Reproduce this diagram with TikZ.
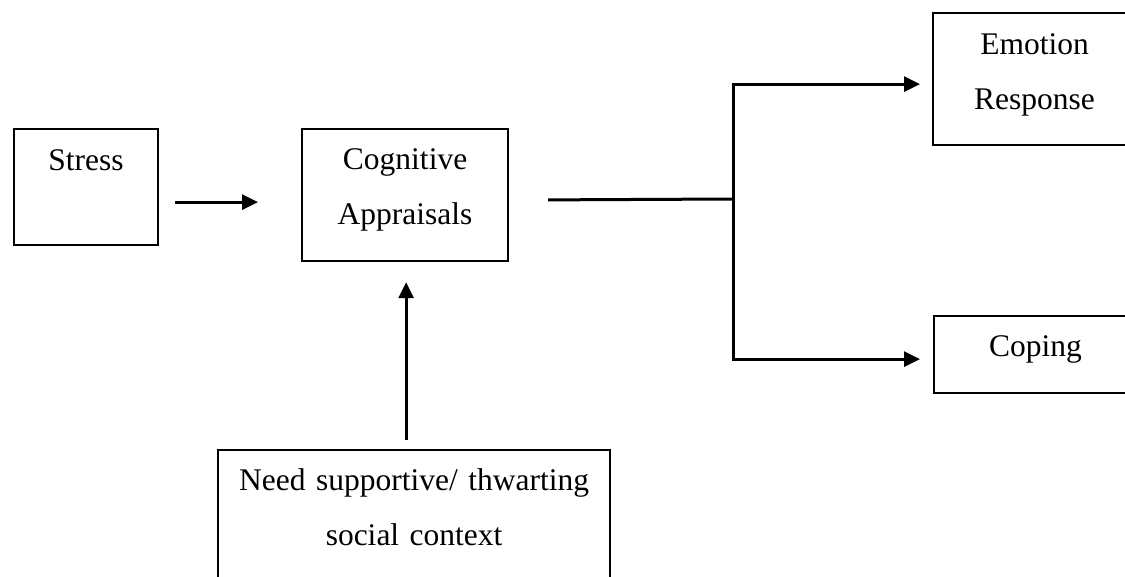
\documentclass[tikz,border=0pt]{standalone}
\usepackage{fontspec}
\setmainfont{Liberation Serif}
\usetikzlibrary{arrows.meta}
\begin{document}
\begin{tikzpicture}[x=0.5pt,y=-0.5pt,box/.style={draw,line width=1.1pt,inner sep=0pt,anchor=north west,align=center,font=\fontsize{15.75}{27.5}\selectfont},link/.style={line width=1.5pt},arr/.style={link,-{Triangle[length=8pt,width=7.5pt]}}]
	\useasboundingbox (0,0) rectangle (1125,577);
	\node[box,text width=72pt,text height=20.5pt,text depth=37.5pt] (stress) at (13,128) {Stress};
	\node[box,text width=103pt,text height=20pt,text depth=46pt] (cog) at (301,128) {Cognitive\\Appraisals};
	\node[box,text width=101.5pt,text height=20.5pt,text depth=45.5pt] (emo) at (932,12) {Emotion\\Response};
	\node[box,text width=101.5pt,text height=20pt,text depth=18.5pt] (coping) at (933,315) {Coping};
	\node[box,text width=196pt,text height=20pt,text depth=75pt] (need) at (217,449) {Need supportive/ thwarting\\social context};
	\coordinate (fork) at (733,199);

	\draw[arr,shorten <=8pt,shorten >=21.5pt] ([yshift=-7.5pt]stress.east) -- ([yshift=-7.5pt]stress.east -| cog.west);
	\draw[arr,shorten <=4.5pt,shorten >=10pt] ([xshift=-4pt]need.north) -- ([xshift=-4pt]need.north |- cog.south);
	\draw[link,shorten <=19.5pt] ([yshift=-2.5pt]cog.east) -- (fork);
	\draw[arr,shorten >=6pt] (fork) |- ([yshift=-2.5pt]emo.west);
	\draw[arr,shorten >=6.5pt] (fork) |- ([yshift=-2.25pt]coping.west);
\end{tikzpicture}
\end{document}
